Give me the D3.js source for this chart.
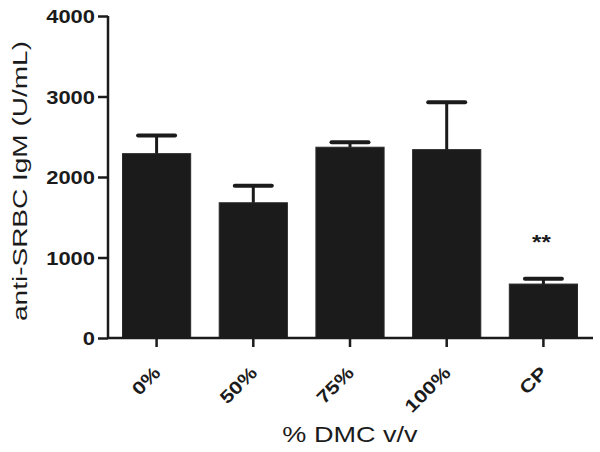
<!DOCTYPE html>
<html><head><meta charset="utf-8">
<script src="https://cdn.jsdelivr.net/npm/d3@7"></script>
<style>body{margin:0;background:#fff}</style>
</head><body>
<svg id="c" width="600" height="452"></svg>
<script>
const categories = ["0%", "50%", "75%", "100%", "CP"];
const means = [2290, 1680, 2370, 2340, 670];
const errors = [225, 210, 62, 590, 65];
const significance = ["", "", "", "", "**"];
const yTicks = [0, 1000, 2000, 3000, 4000];
const yTitle = "anti-SRBC IgM (U/mL)";
const xTitle = "% DMC v/v";

const svg = d3.select("#c");
const font = "'Liberation Sans', Arial, Helvetica, sans-serif";
const ink = "#1b1b1b";
const x0 = 108, x1 = 592, yTop = 16, yBot = 338;

const x = d3.scaleBand().domain(categories).range([x0, x1]).paddingInner(0.295).paddingOuter(0.15);
const y = d3.scaleLinear().domain([0, 4000]).range([yBot, yTop]);

// bars
svg.selectAll("rect.bar").data(categories).join("rect")
  .attr("x", d => x(d)).attr("width", x.bandwidth())
  .attr("y", (d, i) => y(means[i])).attr("height", (d, i) => y(0) - y(means[i]))
  .attr("fill", ink).attr("stroke", "#2a2a2a").attr("stroke-width", 1);

// error bars (upper only)
const cap = 37;
categories.forEach((c, i) => {
  const cx = x(c) + x.bandwidth() / 2;
  svg.append("line").attr("x1", cx).attr("x2", cx)
    .attr("y1", y(means[i])).attr("y2", y(means[i] + errors[i]))
    .attr("stroke", ink).attr("stroke-width", 3);
  svg.append("line").attr("x1", cx - cap / 2).attr("x2", cx + cap / 2)
    .attr("y1", y(means[i] + errors[i])).attr("y2", y(means[i] + errors[i]))
    .attr("stroke", ink).attr("stroke-width", 4).attr("stroke-linecap", "round");
  if (significance[i]) {
    svg.append("text").attr("transform", `translate(${cx - 2},${y(means[i] + errors[i]) - 30}) scale(1.2,1)`)
      .attr("text-anchor", "middle").attr("font-family", font).attr("font-weight", "bold")
      .attr("font-size", 20).attr("fill", ink).text(significance[i]);
  }
});

// y axis
const gy = svg.append("g").attr("transform", `translate(${x0},0)`)
  .call(d3.axisLeft(y).tickValues(yTicks).tickSize(10).tickPadding(3).tickFormat(d3.format("d")));
gy.select(".domain").attr("stroke", ink).attr("stroke-width", 2.5).attr("d", `M0,${yTop}V${yBot}`);
gy.selectAll(".tick line").attr("stroke", ink).attr("stroke-width", 2.5);
gy.selectAll(".tick text").attr("x", null).attr("dy", null)
  .attr("transform", "translate(-13,6.5) scale(1.22,1)")
  .attr("font-family", font).attr("font-weight", "bold").attr("font-size", 18).attr("fill", ink);

// x axis
const gx = svg.append("g").attr("transform", `translate(0,${yBot})`)
  .call(d3.axisBottom(x).tickSize(9).tickSizeOuter(0));
gx.select(".domain").attr("stroke", ink).attr("stroke-width", 2.5).attr("d", `M${x0},0H${x1 + 1}`);
gx.selectAll(".tick line").attr("stroke", ink).attr("stroke-width", 2.5);
gx.selectAll(".tick text").attr("y", null).attr("dy", null)
  .attr("text-anchor", "end")
  .attr("transform", "translate(5,36) rotate(-45) scale(1.22,1)")
  .attr("font-family", font).attr("font-weight", "bold").attr("font-size", 18).attr("fill", ink);

// titles
svg.append("text").attr("transform", `translate(${(x0 + x1) / 2 + 0},442) scale(1.23,1)`)
  .attr("text-anchor", "middle").attr("font-family", font).attr("font-size", 22).attr("fill", ink).text(xTitle);
svg.append("text").attr("transform", "translate(27,181) rotate(-90) scale(1.4,1)")
  .attr("text-anchor", "middle").attr("font-family", font).attr("font-size", 20).attr("fill", ink).text(yTitle);
</script>
</body></html>
